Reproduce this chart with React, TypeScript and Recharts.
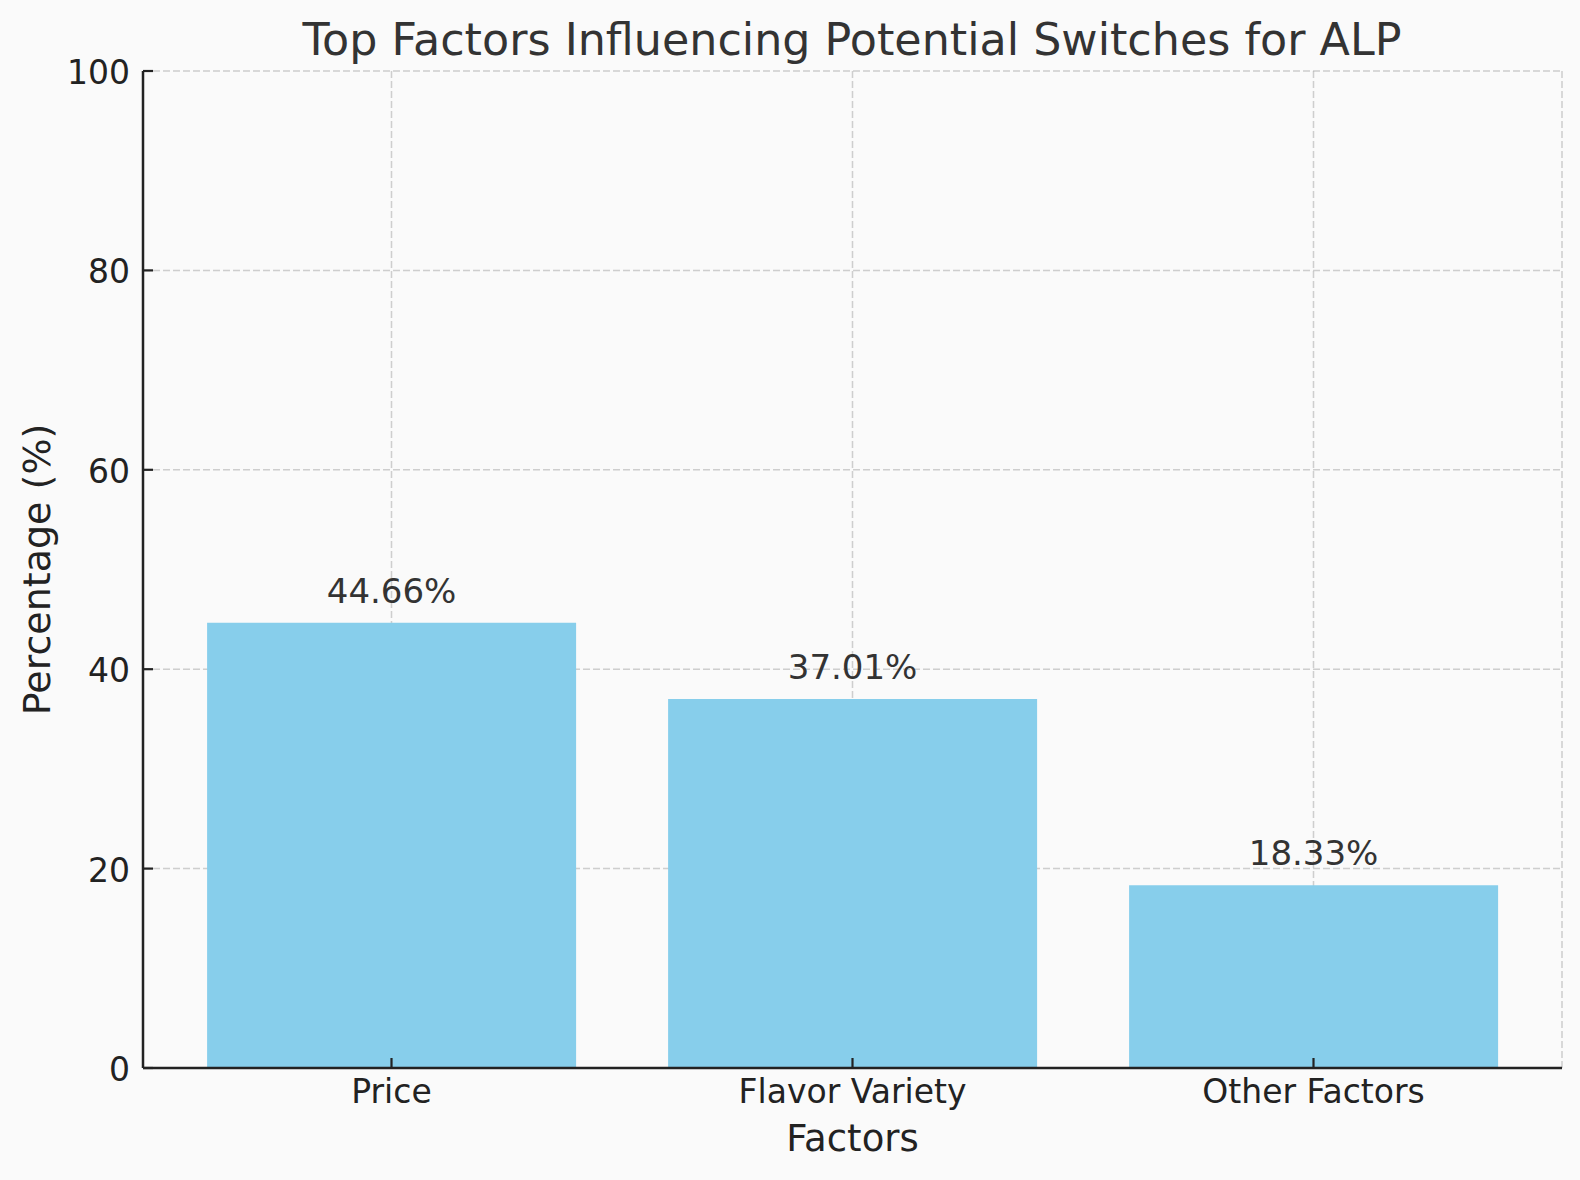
import React from "react";
import { BarChart, Bar, XAxis, YAxis, CartesianGrid, LabelList, Label } from "recharts";

const categories = ["Price", "Flavor Variety", "Other Factors"];
const percentages = [44.66, 37.01, 18.33];
const yTicks = [0, 20, 40, 60, 80, 100];

const data = categories.map((c, i) => ({ factor: c, value: percentages[i] }));

const FONT = "DejaVu Sans";

const XTick = (props: any) => {
  const { x, y, payload } = props;
  return (
    <g>
      <line x1={x} y1={y} x2={x} y2={y - 10} stroke="#222" strokeWidth={2.2} />
      <text x={x} y={y + 35} textAnchor="middle" fontFamily={FONT} fontSize={33} fill="#222">
        {payload.value}
      </text>
    </g>
  );
};

const YTick = (props: any) => {
  const { x, y, payload } = props;
  return (
    <g>
      <line x1={x} y1={y} x2={x + 10} y2={y} stroke="#222" strokeWidth={2.2} />
      <text x={x - 13} y={y + 13} textAnchor="end" fontFamily={FONT} fontSize={33} fill="#222">
        {payload.value}
      </text>
    </g>
  );
};

export default function App() {
  return (
    <div style={{ position: "absolute", left: 0, top: 0, width: 1580, height: 1180, background: "#fafafa" }}>
      <BarChart
        width={1580}
        height={1180}
        data={data}
        margin={{ top: 71, right: 18, bottom: 0, left: 0 }}
        barCategoryGap="10%"
      >
        <XAxis
          dataKey="factor"
          height={112}
          padding={{ left: 18, right: 18 }}
          tickSize={0}
          tickMargin={0}
          tick={<XTick />}
          axisLine={{ stroke: "#222", strokeWidth: 2.5 }}
          tickLine={false}
          interval={0}
        >
          <Label
            content={(p: any) => {
              const vb = p.viewBox;
              return (
                <text
                  x={vb.x + vb.width / 2}
                  y={1151}
                  textAnchor="middle"
                  fontFamily={FONT}
                  fontSize={37}
                  fill="#222"
                >
                  Factors
                </text>
              );
            }}
          />
        </XAxis>
        <YAxis
          type="number"
          domain={[0, 100]}
          ticks={yTicks}
          width={143}
          tickSize={0}
          tickMargin={0}
          tick={<YTick />}
          axisLine={{ stroke: "#222", strokeWidth: 2.5 }}
          tickLine={false}
        >
          <Label
            content={(p: any) => {
              const vb = p.viewBox;
              const cx = 49.5;
              const cy = vb.y + vb.height / 2;
              return (
                <text
                  x={cx}
                  y={cy}
                  textAnchor="middle"
                  transform={`rotate(-90 ${cx} ${cy})`}
                  fontFamily={FONT}
                  fontSize={38}
                  fill="#222"
                >
                  Percentage (%)
                </text>
              );
            }}
          />
        </YAxis>
        <Bar dataKey="value" fill="#87CEEB" isAnimationActive={false}>
          <LabelList
            dataKey="value"
            position="top"
            offset={20}
            formatter={(v: any) => `${Number(v).toFixed(2)}%`}
            style={{ fontFamily: FONT, fontSize: 34, fill: "#333" }}
          />
        </Bar>
        <CartesianGrid stroke="#b0b0b0" strokeOpacity={0.6} strokeWidth={1.5} strokeDasharray="7 3" />
      </BarChart>
      <svg
        width={1580}
        height={1180}
        style={{ position: "absolute", left: 0, top: 0, pointerEvents: "none" }}
      >
        <text x={852} y={55} textAnchor="middle" fontFamily={FONT} fontSize={44.4} fill="#333">
          Top Factors Influencing Potential Switches for ALP
        </text>
      </svg>
    </div>
  );
}
